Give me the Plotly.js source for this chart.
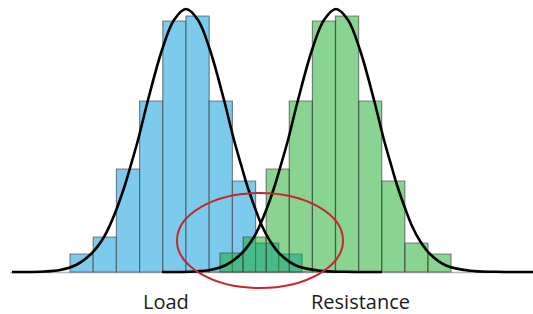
<!DOCTYPE html>
<html>
<head>
<meta charset="utf-8">
<script src="https://cdn.plot.ly/plotly-3.0.1.min.js"></script>
<style>html,body{margin:0;padding:0;background:#fff;}#chart{width:533px;height:314px;}</style>
</head>
<body>
<div id="chart"></div>
<script>
// Load histogram (bin centres and heights)
const loadBins = [81.6, 104.8, 128, 151.2, 174.4, 197.6, 220.8, 244, 267.2, 290.4];
const loadCounts = [18, 35, 103, 171, 251, 256, 171, 91, 29, 18];
// Resistance histogram
const resBins = [231.55, 254.65, 277.75, 300.85, 323.95, 347.05, 370.15, 393.25, 416.35, 439.45];
const resCounts = [19, 35, 103, 171, 251, 256, 171, 91, 29, 18];
// Fitted density curves
const loadCurveX = [12, 45, 60, 76, 92, 104, 110, 117, 124, 130, 138, 148, 162, 174, 186, 198, 210, 224, 234, 242, 247, 255, 262, 270, 280, 296, 320, 345, 382];
const loadCurveY = [0, 0.5, 2, 7, 19, 35, 47, 64, 84, 104, 132, 172, 222, 252, 263, 252, 222, 172, 132, 104, 87, 64, 46, 31, 18, 6.5, 1.2, 0.2, 0];
const resCurveX = [162, 195, 210, 226, 242, 254, 260, 267, 274, 280, 288, 298, 312, 324, 336, 348, 360, 374, 384, 392, 397, 405, 412, 420, 430, 446, 470, 495, 533];
const resCurveY = [0, 0.5, 2, 7, 19, 35, 47, 64, 84, 104, 132, 172, 222, 252, 263, 252, 222, 172, 132, 104, 87, 64, 46, 31, 18, 6.5, 1.2, 0.2, 0];
const labels = ["Load", "Resistance"];
const labelX = [165.5, 360];

const traces = [
  {type: 'bar', x: loadBins, y: loadCounts, width: 23.2,
   marker: {color: '#7ccbed', line: {color: 'rgba(60,60,60,0.6)', width: 1.2}}, hoverinfo: 'skip'},
  {type: 'bar', x: resBins, y: resCounts, width: 23.1,
   marker: {color: 'rgba(17,169,33,0.5)', line: {color: 'rgba(60,60,60,0.6)', width: 1.2}}, hoverinfo: 'skip'},
  {type: 'scatter', mode: 'lines', x: loadCurveX, y: loadCurveY,
   line: {color: '#000', width: 2.6, shape: 'spline', smoothing: 1}, hoverinfo: 'skip'},
  {type: 'scatter', mode: 'lines', x: resCurveX, y: resCurveY,
   line: {color: '#000', width: 2.6, shape: 'spline', smoothing: 1}, hoverinfo: 'skip'}
];

const layout = {
  width: 533, height: 314,
  margin: {l: 0, r: 0, t: 0, b: 0},
  paper_bgcolor: '#fff', plot_bgcolor: '#fff',
  showlegend: false,
  barmode: 'overlay', bargap: 0,
  xaxis: {range: [0, 533], visible: false, fixedrange: true},
  yaxis: {range: [-42, 272], visible: false, fixedrange: true},
  shapes: [
    {type: 'line', xref: 'x', yref: 'y', x0: 10, x1: 533, y0: -0.5, y1: -0.5,
     line: {color: '#b5b5b5', width: 1.5}, layer: 'below'},
    {type: 'circle', xref: 'x', yref: 'y', x0: 177, x1: 343, y0: -16, y1: 79,
     line: {color: '#c8262d', width: 2}}
  ],
  annotations: labels.map((t, i) => ({
    text: t, x: labelX[i], y: -29, xref: 'x', yref: 'y', showarrow: false,
    xanchor: 'center', yanchor: 'middle',
    font: {family: 'Open Sans', size: 20, color: '#1a1a1a'}
  }))
};

Plotly.newPlot('chart', traces, layout, {displayModeBar: false, staticPlot: true});
</script>
</body>
</html>
